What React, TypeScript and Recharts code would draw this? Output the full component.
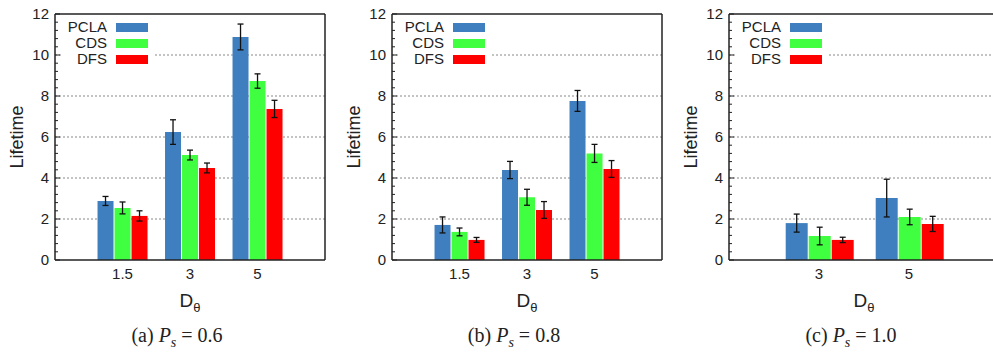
import React from 'react';
import { BarChart, Bar, XAxis, YAxis, CartesianGrid, ErrorBar } from 'recharts';

const SERIES = ['PCLA', 'CDS', 'DFS'];
const COLORS = ['#3f7fbf', '#40ff40', '#ff0000'];

// (a) Ps = 0.6
const D_A = ['1.5', '3', '5'];
const PCLA_A = [2.88, 6.24, 10.88];
const PCLA_A_ERR = [0.22, 0.6, 0.63];
const CDS_A = [2.54, 5.12, 8.73];
const CDS_A_ERR = [0.29, 0.24, 0.35];
const DFS_A = [2.15, 4.49, 7.37];
const DFS_A_ERR = [0.25, 0.24, 0.42];

// (b) Ps = 0.8
const D_B = ['1.5', '3', '5'];
const PCLA_B = [1.71, 4.39, 7.76];
const PCLA_B_ERR = [0.39, 0.42, 0.51];
const CDS_B = [1.37, 3.06, 5.2];
const CDS_B_ERR = [0.19, 0.39, 0.44];
const DFS_B = [0.98, 2.44, 4.44];
const DFS_B_ERR = [0.12, 0.41, 0.41];

// (c) Ps = 1.0
const D_C = ['3', '5'];
const PCLA_C = [1.8, 3.02];
const PCLA_C_ERR = [0.44, 0.92];
const CDS_C = [1.17, 2.1];
const CDS_C_ERR = [0.43, 0.38];
const DFS_C = [0.98, 1.76];
const DFS_C_ERR = [0.13, 0.37];

const Y_MAJOR = [0, 2, 4, 6, 8, 10, 12];
const GRID_Y = [2, 4, 6, 8, 10];
// minor tics every 0.4, like gnuplot's default subdivision
const Y_TICKS = Array.from({ length: 31 }, (_, i) => +(i * 0.4).toFixed(1));

const SANS = '"Liberation Sans", Arial, sans-serif';
const SERIF = '"Liberation Serif", "Times New Roman", serif';
const INK = '#222';

const PANEL_STEP = 337;
const PLOT_LEFT = 55;
const PLOT_TOP = 14;
const PLOT_W = 270;

const buildRows = (cats: string[], vals: number[][], errs: number[][]) =>
  cats.map((d, i) => ({
    d,
    pcla: vals[0][i], pclaErr: errs[0][i],
    cds: vals[1][i], cdsErr: errs[1][i],
    dfs: vals[2][i], dfsErr: errs[2][i],
  }));

const YTick = (props: any) => {
  const { x, y, payload } = props;
  const v = payload.value;
  const major = Y_MAJOR.some(m => Math.abs(m - v) < 1e-6);
  const ax = x + 6;
  return (
    <g>
      <line x1={ax} x2={ax + (major ? 5 : 3)} y1={y} y2={y} stroke={INK} strokeWidth={1} />
      {major && (
        <text x={x} y={y} dy="0.36em" textAnchor="end" fontSize={15} fill={INK} fontFamily={SANS}>
          {v}
        </text>
      )}
    </g>
  );
};

const Legend = () => (
  <div
    style={{
      position: 'absolute', left: PLOT_LEFT + 8, top: PLOT_TOP + 2, width: 90, height: 50,
      background: '#fff', fontFamily: SANS, fontSize: 15, color: INK,
    }}
  >
    {SERIES.map((s, i) => (
      <div key={s} style={{ position: 'absolute', left: 0, top: 3 + i * 16, height: 16, width: 90 }}>
        <span style={{ position: 'absolute', right: 46, top: 0, lineHeight: '16px', whiteSpace: 'nowrap' }}>{s}</span>
        <span style={{ position: 'absolute', left: 53, top: 3.5, width: 32, height: 9, background: COLORS[i] }} />
      </div>
    ))}
  </div>
);

interface PanelProps {
  index: number;
  cats: string[];
  vals: number[][];
  errs: number[][];
  tag: string;
  ps: string;
}

const Panel: React.FC<PanelProps> = ({ index, cats, vals, errs, tag, ps }) => {
  const rows = buildRows(cats, vals, errs);
  const pad = PLOT_W / (cats.length + 1) / 2;
  const axisLine = { stroke: INK, strokeWidth: 1.5 };
  const left = index * PANEL_STEP;
  return (
    <div style={{ position: 'absolute', left, top: 0, width: 340, height: 354 }}>
      <BarChart
        width={332}
        height={300}
        data={rows}
        margin={{ top: 13, right: 6, bottom: 10, left: 0 }}
        barCategoryGap="13%"
        barGap={1}
      >
        <CartesianGrid vertical={false} horizontalValues={GRID_Y} stroke="#888" strokeDasharray="2 2" />
        <XAxis
          dataKey="d"
          height={30}
          padding={{ left: pad, right: pad }}
          tickLine={false}
          tickSize={0}
          tickMargin={8}
          axisLine={axisLine}
          tick={{ fill: INK, fontSize: 15, fontFamily: SANS }}
        />
        <XAxis xAxisId="top" orientation="top" dataKey="d" height={1} tick={false} tickLine={false} axisLine={axisLine} />
        <YAxis
          width={PLOT_LEFT}
          domain={[0, 12]}
          ticks={Y_TICKS}
          interval={0}
          tickLine={false}
          tickSize={0}
          tickMargin={6}
          axisLine={axisLine}
          tick={<YTick />}
        />
        <YAxis yAxisId="r" orientation="right" width={1} domain={[0, 12]} tick={false} tickLine={false} axisLine={axisLine} />
        {['pcla', 'cds', 'dfs'].map((k, i) => (
          <Bar key={k} dataKey={k} fill={COLORS[i]} isAnimationActive={false}>
            <ErrorBar dataKey={`${k}Err`} width={3} stroke="#111" strokeWidth={1.3} direction="y" isAnimationActive={false} />
          </Bar>
        ))}
      </BarChart>
      <Legend />
      <div
        style={{
          position: 'absolute', left: 17, top: 137, transform: 'translate(-50%, -50%) rotate(-90deg)',
          fontFamily: SANS, fontSize: 18, color: INK, whiteSpace: 'nowrap', lineHeight: '18px',
        }}
      >
        Lifetime
      </div>
      <div
        style={{
          position: 'absolute', left: PLOT_LEFT + PLOT_W / 2, top: 291, transform: 'translateX(-50%)',
          fontFamily: SANS, fontSize: 19, color: INK, whiteSpace: 'nowrap', lineHeight: '19px',
        }}
      >
        D<sub style={{ fontSize: 13 }}>θ</sub>
      </div>
      <div
        style={{
          position: 'absolute', left: 177, top: 325, transform: 'translateX(-50%)',
          fontFamily: SERIF, fontSize: 20, color: INK, whiteSpace: 'nowrap', lineHeight: '20px',
        }}
      >
        {tag} <i>P</i><sub style={{ fontSize: 14 }}><i>s</i></sub>
        <span style={{ margin: '0 5px' }}>=</span>{ps}
      </div>
    </div>
  );
};

export default function App() {
  return (
    <div style={{ position: 'absolute', left: 0, top: 0, width: 993, height: 354, overflow: 'hidden', background: '#fff' }}>
      <Panel index={0} cats={D_A} vals={[PCLA_A, CDS_A, DFS_A]} errs={[PCLA_A_ERR, CDS_A_ERR, DFS_A_ERR]} tag="(a)" ps="0.6" />
      <Panel index={1} cats={D_B} vals={[PCLA_B, CDS_B, DFS_B]} errs={[PCLA_B_ERR, CDS_B_ERR, DFS_B_ERR]} tag="(b)" ps="0.8" />
      <Panel index={2} cats={D_C} vals={[PCLA_C, CDS_C, DFS_C]} errs={[PCLA_C_ERR, CDS_C_ERR, DFS_C_ERR]} tag="(c)" ps="1.0" />
    </div>
  );
}
